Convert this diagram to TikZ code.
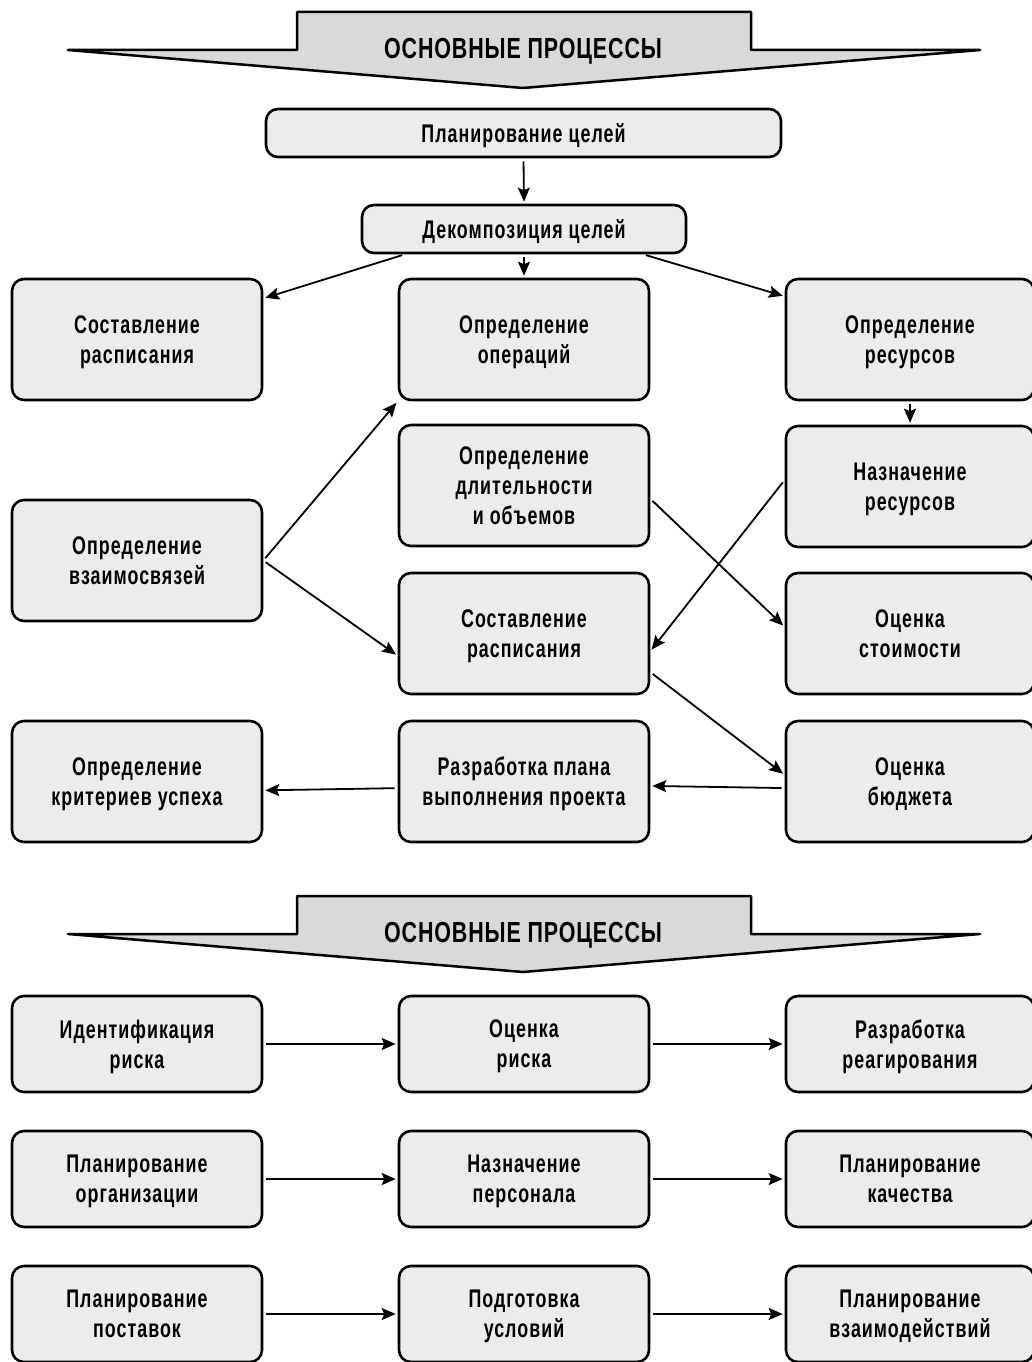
\documentclass[tikz,border=0pt]{standalone}
\usepackage{fontspec}
\setmainfont{Liberation Sans}[FakeStretch=0.70, LetterSpace=4]
\newfontfamily\titlefont{Liberation Sans}[FakeStretch=0.74, LetterSpace=3]
\usepackage{tikz}
\usetikzlibrary{calc}
\usetikzlibrary{arrows.meta}
\definecolor{boxgray}{HTML}{ECECEC}
\definecolor{bannergray}{HTML}{D9D9D9}
\tikzset{
  box/.style={draw, line width=2.6pt, rounded corners=12pt, fill=boxgray, minimum width=250pt, minimum height=121pt, inner sep=0pt, text depth=0pt, align=center, font=\fontsize{25.5}{30}\selectfont\bfseries},
  lowbox/.style={box, minimum height=96pt},
  topbox/.style={box, minimum height=48pt},
  title/.style={font=\titlefont\fontsize{29}{34}\selectfont\bfseries, inner sep=0pt, text depth=0pt},
  arr/.style={line width=1.8pt, -{Stealth[length=14pt,width=12pt,inset=2.5pt]}, shorten >=2pt, shorten <=3pt}
}
\newcommand{\banner}[2]{\draw[line width=2.5pt, line join=round, fill=bannergray] (297,#1) -- (751,#1) -- (751,#1+38) -- (980,#1+38) -- (523,#1+76) -- (68,#1+38) -- (297,#1+38) -- cycle; \node[title] (#2) at (523,#1+36.5) {ОСНОВНЫЕ ПРОЦЕССЫ};}

\begin{document}
\begin{tikzpicture}[x=1pt,y=-1pt]
    \useasboundingbox (0,0) rectangle (1032,1362);
    % banners
    \banner{12}{titleone}
    \banner{896}{titletwo}
    % top
    \node[topbox, minimum width=515pt] (plan) at (523.5,133) {Планирование целей};
    \node[topbox, minimum width=324pt] (decomp) at (524,229) {Декомпозиция целей};
    % row1
    \node[box] (sched) at (137,339.5) {Составление\\расписания};
    \node[box] (ops) at (524,339.5) {Определение\\операций};
    \node[box, minimum width=248pt] (res) at (910,339.5) {Определение\\ресурсов};
    % row2
    \node[box] (dur) at (524,485.5) {Определение\\длительности\\и объемов};
    \node[box, minimum width=248pt] (assign) at (910,486.5) {Назначение\\ресурсов};
    \node[box] (rel) at (137,560.5) {Определение\\взаимосвязей};
    % row3
    \node[box] (schedtwo) at (524,633.5) {Составление\\расписания};
    \node[box, minimum width=248pt] (cost) at (910,633.5) {Оценка\\стоимости};
    % row4
    \node[box] (crit) at (137,781.5) {Определение\\критериев успеха};
    \node[box] (plandev) at (524,781.5) {Разработка плана\\выполнения проекта};
    \node[box, minimum width=248pt] (budget) at (910,781.5) {Оценка\\бюджета};
    % lower rows
    \node[lowbox] (riskid) at (137,1044) {Идентификация\\риска};
    \node[lowbox] (riskev) at (524,1044) {Оценка\\риска};
    \node[lowbox, minimum width=248pt] (riskresp) at (910,1044) {Разработка\\реагирования};
    \node[lowbox] (orgplan) at (137,1179) {Планирование\\организации};
    \node[lowbox] (staff) at (524,1179) {Назначение\\персонала};
    \node[lowbox, minimum width=248pt] (quality) at (910,1179) {Планирование\\качества};
    \node[lowbox] (supply) at (137,1314) {Планирование\\поставок};
    \node[lowbox] (cond) at (524,1314) {Подготовка\\условий};
    \node[lowbox, minimum width=248pt] (comm) at (910,1314) {Планирование\\взаимодействий};
    % arrows
    \draw[arr] (plan.south) -- (decomp.north);
    \draw[arr] (decomp.192.6) -- (sched.18.6);
    \draw[arr] (decomp.south) -- (ops.north);
    \draw[arr] (decomp.-12.9) -- (res.161.2);
    \draw[arr] (res.south) -- (assign.north);
    \draw[arr] (rel.east) -- (ops.south west);
    \draw[arr] (rel.east) -- (schedtwo.190.9);
    \draw[arr] (dur.-6.2) -- (cost.177);
    \draw[arr] (assign.177) -- (schedtwo.-8.2);
    \draw[arr] (schedtwo.-17.7) -- (budget.177);
    \draw[arr] (budget.183.7) -- (plandev.-2);
    \draw[arr] (plandev.183.7) -- (crit.-4.6);
    \draw[arr] (riskid) -- (riskev);
    \draw[arr] (riskev) -- (riskresp);
    \draw[arr] (orgplan) -- (staff);
    \draw[arr] (staff) -- (quality);
    \draw[arr] (supply) -- (cond);
    \draw[arr] (cond) -- (comm);
\end{tikzpicture}
\end{document}
